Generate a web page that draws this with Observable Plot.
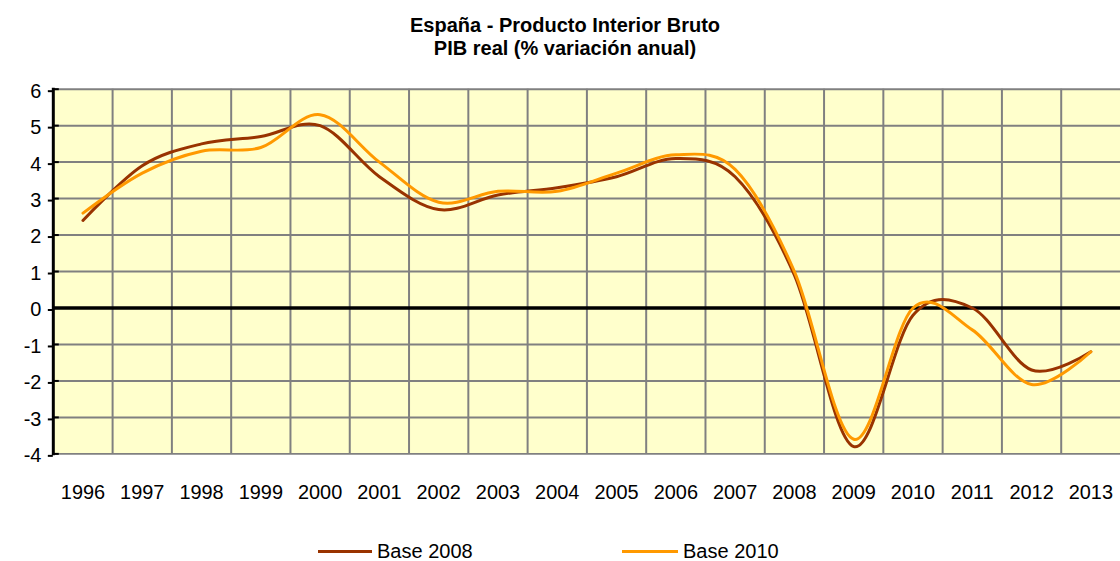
<!DOCTYPE html>
<html>
<head>
<meta charset="utf-8">
<script src="https://cdn.jsdelivr.net/npm/d3@7"></script>
<script src="https://cdn.jsdelivr.net/npm/@observablehq/plot@0.6"></script>
<style>
  html, body { margin: 0; padding: 0; background: #fff; overflow: hidden; width: 1120px; height: 561px; }
  #wrap { position: relative; width: 1120px; height: 561px; overflow: hidden; font-family: "Liberation Sans", Arial, sans-serif; color: #000; }
  #chart { position: absolute; left: 0; top: 0; }
  #title { position: absolute; top: 14px; left: 315px; width: 500px; text-align: center; font-weight: bold; font-size: 20px; line-height: 23px; }
  .swatch { position: absolute; height: 3px; top: 550px; }
  .legtext { position: absolute; top: 540px; font-size: 20px; line-height: 23px; white-space: nowrap; }
</style>
</head>
<body>
<div id="wrap">
  <div id="chart"></div>
  <div id="title">España - Producto Interior Bruto<br>PIB real (% variación anual)</div>
  <div class="swatch" style="left:318px;width:54px;background:#993300"></div>
  <div class="legtext" style="left:377px">Base 2008</div>
  <div class="swatch" style="left:622px;width:56px;background:#ff9900"></div>
  <div class="legtext" style="left:683px">Base 2010</div>
</div>
<script>
const years = [1996, 1997, 1998, 1999, 2000, 2001, 2002, 2003, 2004, 2005, 2006, 2007, 2008, 2009, 2010, 2011, 2012, 2013];
const base2008 = [2.4, 3.9, 4.5, 4.7, 5.0, 3.6, 2.7, 3.1, 3.3, 3.6, 4.1, 3.6, 0.9, -3.8, -0.2, 0.0, -1.7, -1.2];
const base2010 = [2.6, 3.7, 4.3, 4.4, 5.3, 4.0, 2.9, 3.2, 3.2, 3.7, 4.2, 3.8, 1.0, -3.6, 0.0, -0.6, -2.1, -1.2];
const yTicks = [-4, -3, -2, -1, 0, 1, 2, 3, 4, 5, 6];
const seriesNames = ["Base 2008", "Base 2010"];

const rows = [];
years.forEach((yr, i) => {
  rows.push({year: yr, value: base2008[i], serie: seriesNames[0]});
  rows.push({year: yr, value: base2010[i], serie: seriesNames[1]});
});
const gridX = years.slice(0, -1).map(y => y + 0.5);

const chart = Plot.plot({
  width: 1124,
  height: 561,
  marginLeft: 53,
  marginRight: 0,
  marginTop: 89,
  marginBottom: 106,
  style: {fontSize: "20px", fontFamily: "'Liberation Sans', Arial, sans-serif", background: "transparent", color: "#000"},
  x: {domain: [years[0] - 0.5, years[years.length - 1] + 0.5]},
  y: {domain: [yTicks[0], yTicks[yTicks.length - 1]]},
  marks: [
    Plot.frame({fill: "#ffffcc", stroke: null}),
    Plot.ruleX(gridX, {stroke: "#808080", strokeWidth: 2}),
    Plot.ruleY(yTicks.filter(d => d !== 0), {stroke: "#808080", strokeWidth: 2}),
    Plot.ruleY([0], {stroke: "#000", strokeWidth: 3.5}),
    Plot.frame({anchor: "left", stroke: "#000", strokeWidth: 3}),
    Plot.axisY({ticks: yTicks, tickFormat: d => String(d), tickSize: 5, tickPadding: 7, stroke: "#000", strokeWidth: 2, dy: 2, label: null, fontSize: 20}),
    Plot.axisY({ticks: yTicks, tickSize: -6, tickFormat: () => "", stroke: "#000", strokeWidth: 2, label: null}),
    Plot.axisX({ticks: years, tickFormat: d => String(d), tickSize: 0, tickPadding: 31, label: null, fontSize: 20}),
    Plot.line(rows.filter(d => d.serie === seriesNames[0]), {x: "year", y: "value", stroke: "#993300", strokeWidth: 3, curve: "cardinal"}),
    Plot.line(rows.filter(d => d.serie === seriesNames[1]), {x: "year", y: "value", stroke: "#ff9900", strokeWidth: 3, curve: "cardinal"})
  ]
});
document.getElementById("chart").appendChild(chart);
</script>
</body>
</html>
